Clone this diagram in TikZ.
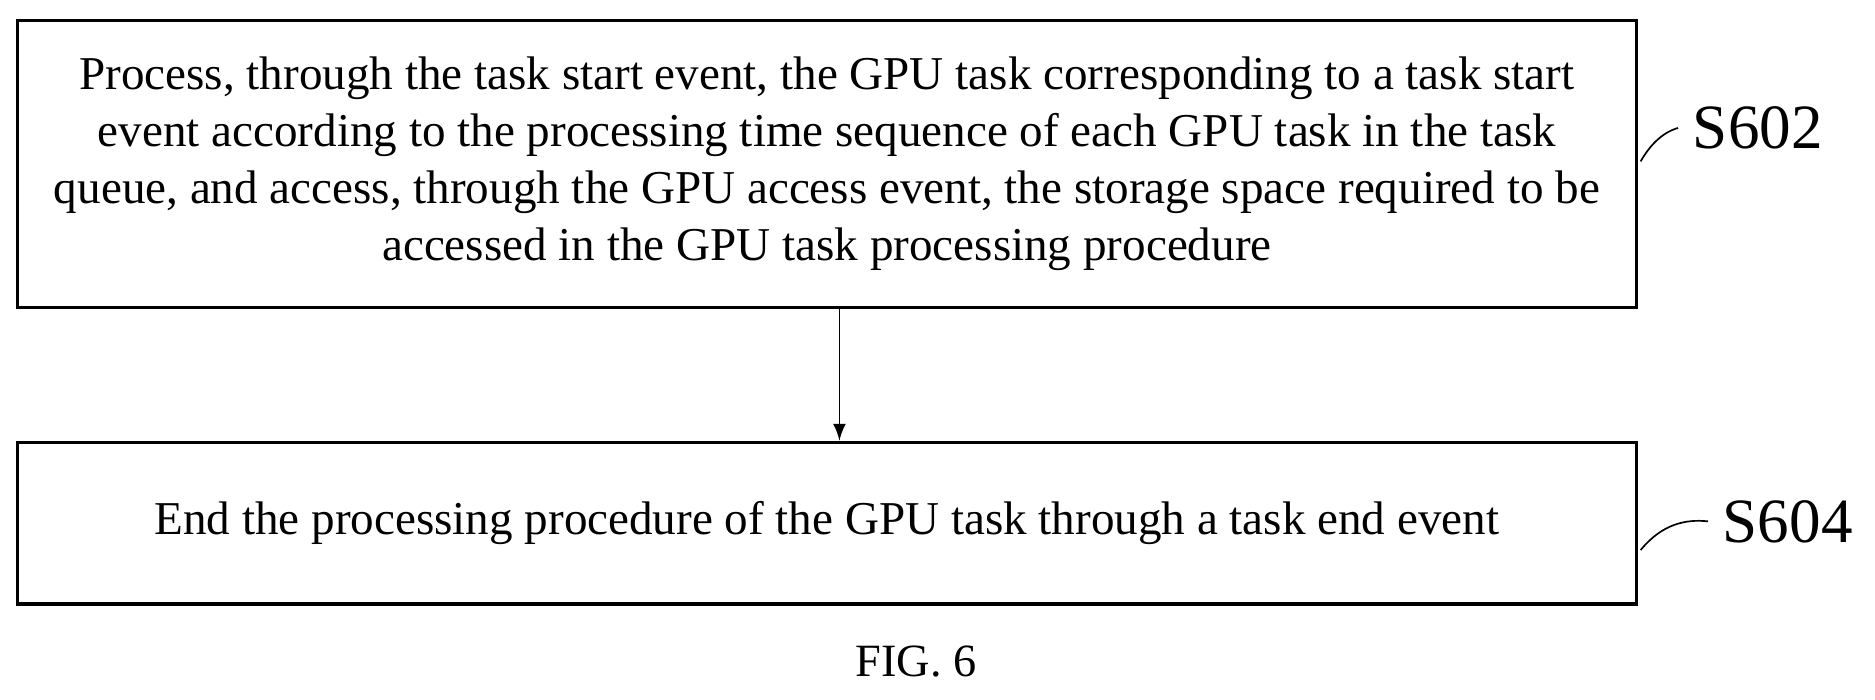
\documentclass[tikz,border=0pt]{standalone}
\usepackage{fontspec}
\setmainfont{Liberation Serif}
\begin{document}
\begin{tikzpicture}[x=0.01cm,y=-0.01cm,
  box/.style={draw,line width=0.8pt,minimum width=13.53cm,align=center,inner sep=0pt,font=\fontsize{11.2pt}{13.6pt}\selectfont},
  lab/.style={font=\fontsize{15pt}{17pt}\selectfont}]
\useasboundingbox (0,0) rectangle (1568,585);
\node[box,minimum height=2.4cm] (b1) at (691.5,137) {Process, through the task start event, the GPU task corresponding to a task start\\ event according to the processing time sequence of each GPU task in the task\\ queue, and access, through the GPU access event, the storage space required to be\\ accessed in the GPU task processing procedure};
\node[box,minimum height=1.35cm] (b2) at (691.5,437.5) {End the processing procedure of the GPU task through a task end event};
\draw[-latex,thin] (b1.south -| 702,0) -- (b2.north -| 702,0);
\node[lab] (s1) at (1470,107) {S602};
\node[lab] (s2) at (1495,436) {S604};
\draw[thin] (1372,135) .. controls (1385,112) and (1400,108) .. (s1.west);
\draw[thin] (1372,460) .. controls (1390,438) and (1410,434) .. (s2.west);
\node[font=\fontsize{11pt}{13pt}\selectfont] (fig) at (766,553) {FIG. 6};
\end{tikzpicture}
\end{document}
